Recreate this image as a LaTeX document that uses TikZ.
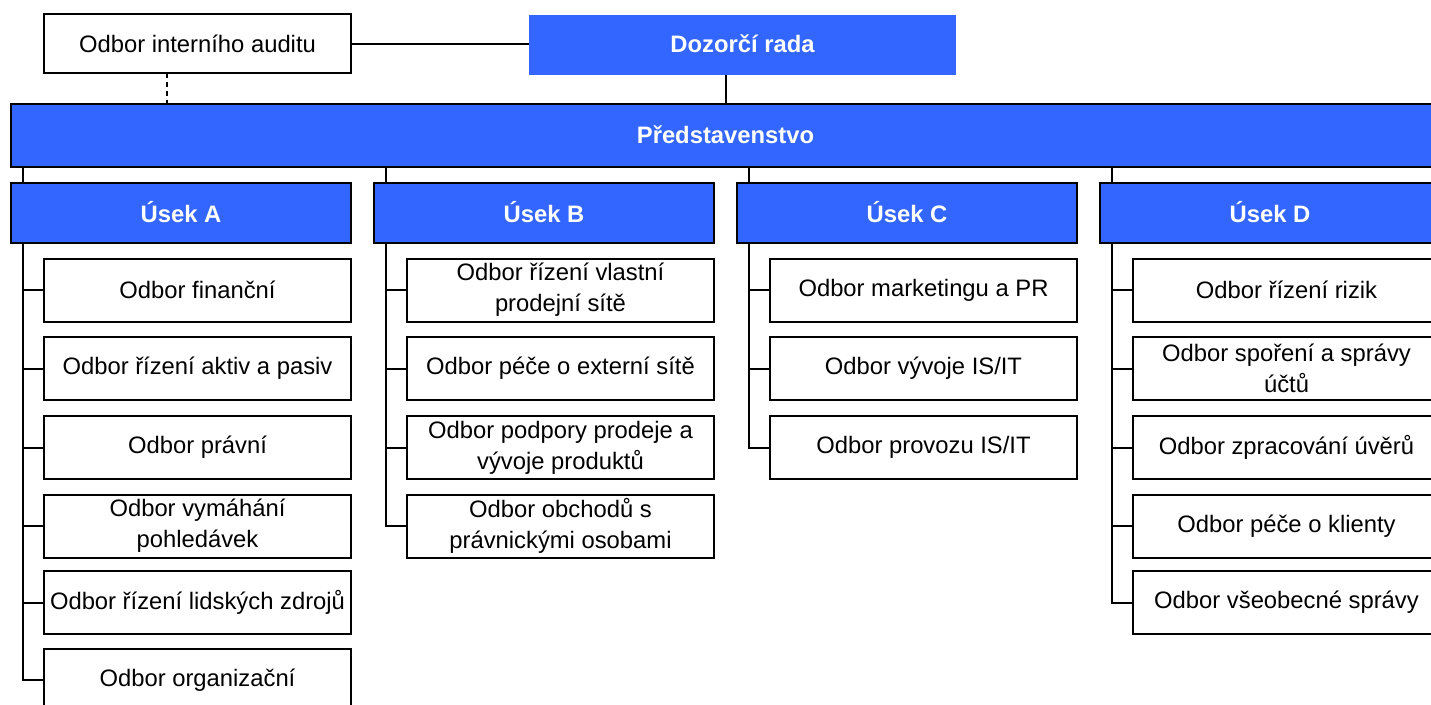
\documentclass[tikz,border=0pt]{standalone}
\usepackage{fontspec}
\setmainfont{Liberation Sans}
\definecolor{modra}{HTML}{3366FF}
\tikzset{
  odbor/.style={draw, line width=2pt, outer sep=0pt, fill=white, minimum width=307pt, minimum height=63pt,
    inner sep=0pt, align=center, font=\fontsize{23.8}{31}\selectfont},
  usek/.style={draw, line width=2pt, outer sep=0pt, fill=modra, text=white, minimum width=340pt, minimum height=60pt,
    inner sep=0pt, text depth=2pt, font=\fontsize{23.8}{31}\selectfont\bfseries},
  spoj/.style={line width=2pt},
}
\begin{document}
\begin{tikzpicture}[x=1pt,y=-1pt]
  \useasboundingbox (0,0) rectangle (1431,704);
  \clip (0,0) rectangle (1431,704);

  % Vedeni
  \node[odbor, minimum height=59pt] (audit) at (197.5,43.5) {Odbor interního auditu};
  \node[usek, draw=none, minimum width=427pt] (rada) at (742.5,45) {Dozorčí rada};
  \node[usek, minimum width=1429pt, minimum height=63pt] (predstavenstvo) at (725.5,135.5) {Představenstvo};

  % Useky
  \node[usek] (usekA) at (181,213) {Úsek A};
  \node[usek] (usekB) at (544,213) {Úsek B};
  \node[usek] (usekC) at (907,213) {Úsek C};
  \node[usek] (usekD) at (1270,213) {Úsek D};

  % Odbory useku A
  \node[odbor] (a1) at (197.5,290) {Odbor finanční};
  \node[odbor] (a2) at (197.5,368.5) {Odbor řízení aktiv a pasiv};
  \node[odbor] (a3) at (197.5,447.5) {Odbor právní};
  \node[odbor] (a4) at (197.5,526) {Odbor vymáhání\\pohledávek};
  \node[odbor] (a5) at (197.5,602.5) {Odbor řízení lidských zdrojů};
  \node[odbor] (a6) at (197.5,680) {Odbor organizační};

  % Odbory useku B
  \node[odbor] (b1) at (560.5,290) {Odbor řízení vlastní\\prodejní sítě};
  \node[odbor] (b2) at (560.5,368.5) {Odbor péče o externí sítě};
  \node[odbor] (b3) at (560.5,447.5) {Odbor podpory prodeje a\\vývoje produktů};
  \node[odbor] (b4) at (560.5,526) {Odbor obchodů s\\právnickými osobami};

  % Odbory useku C
  \node[odbor] (c1) at (923.5,290) {Odbor marketingu a PR};
  \node[odbor] (c2) at (923.5,368.5) {Odbor vývoje IS/IT};
  \node[odbor] (c3) at (923.5,447.5) {Odbor provozu IS/IT};

  % Odbory useku D
  \node[odbor] (d1) at (1286.5,290) {Odbor řízení rizik};
  \node[odbor] (d2) at (1286.5,368.5) {Odbor spoření a správy\\účtů};
  \node[odbor] (d3) at (1286.5,447.5) {Odbor zpracování úvěrů};
  \node[odbor] (d4) at (1286.5,526) {Odbor péče o klienty};
  \node[odbor] (d5) at (1286.5,602.5) {Odbor všeobecné správy};

  % Spojnice vedeni
  \draw[spoj] (audit.east) -- (audit.east -| rada.west);
  \draw[spoj, dash pattern=on 5pt off 4pt] ([xshift=-30.5pt]audit.south) -- ([xshift=-30.5pt]audit.south |- predstavenstvo.north);
  \draw[spoj] ([xshift=-16.5pt]rada.south) -- ([xshift=-16.5pt]rada.south |- predstavenstvo.north);

  % Spojnice predstavenstvo - useky
  \draw[spoj] ([xshift=12pt]usekA.north west) -- ([xshift=12pt]usekA.north west |- predstavenstvo.south);
  \draw[spoj] ([xshift=12pt]usekB.north west) -- ([xshift=12pt]usekB.north west |- predstavenstvo.south);
  \draw[spoj] ([xshift=12pt]usekC.north west) -- ([xshift=12pt]usekC.north west |- predstavenstvo.south);
  \draw[spoj] ([xshift=12pt]usekD.north west) -- ([xshift=12pt]usekD.north west |- predstavenstvo.south);

  % Osy useku
  \coordinate (osaA) at ([xshift=12pt]usekA.south west);
  \coordinate (osaB) at ([xshift=12pt]usekB.south west);
  \coordinate (osaC) at ([xshift=12pt]usekC.south west);
  \coordinate (osaD) at ([xshift=12pt]usekD.south west);

  \draw[spoj] (osaA) |- (a6.west);
  \draw[spoj] (a1.west) -- (a1.west -| osaA) (a2.west) -- (a2.west -| osaA) (a3.west) -- (a3.west -| osaA)
    (a4.west) -- (a4.west -| osaA) (a5.west) -- (a5.west -| osaA);

  \draw[spoj] (osaB) |- (b4.west);
  \draw[spoj] (b1.west) -- (b1.west -| osaB) (b2.west) -- (b2.west -| osaB) (b3.west) -- (b3.west -| osaB);

  \draw[spoj] (osaC) |- (c3.west);
  \draw[spoj] (c1.west) -- (c1.west -| osaC) (c2.west) -- (c2.west -| osaC);

  \draw[spoj] (osaD) |- (d5.west);
  \draw[spoj] (d1.west) -- (d1.west -| osaD) (d2.west) -- (d2.west -| osaD) (d3.west) -- (d3.west -| osaD)
    (d4.west) -- (d4.west -| osaD);
\end{tikzpicture}
\end{document}
